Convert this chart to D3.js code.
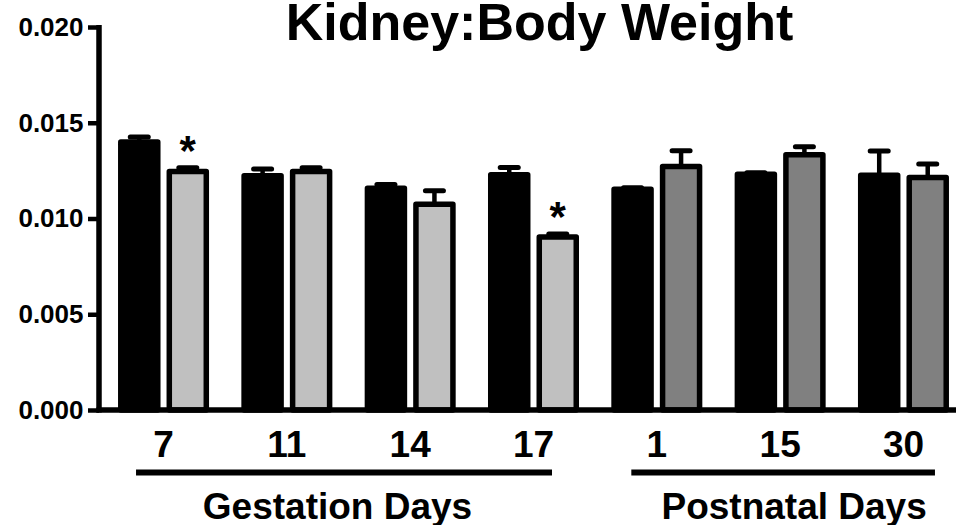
<!DOCTYPE html>
<html>
<head>
<meta charset="utf-8">
<script src="https://cdn.jsdelivr.net/npm/d3@7"></script>
<style>
  html, body { margin: 0; padding: 0; background: #fff; }
  svg { display: block; }
  text { font-family: "Liberation Sans", Arial, Helvetica, sans-serif; font-weight: bold; fill: #000; }
</style>
</head>
<body>
<svg id="chart" width="956" height="525"></svg>
<script>
// ---- data ----
const categories   = ["7", "11", "14", "17", "1", "15", "30"];
const periods      = ["Gestation", "Gestation", "Gestation", "Gestation", "Postnatal", "Postnatal", "Postnatal"];
const controlMean  = [0.01400, 0.01223, 0.01158, 0.01228, 0.01153, 0.01231, 0.01226];
const controlErr   = [0.00026, 0.00035, 0.00020, 0.00038, 0.00008, 0.00008, 0.00127];
const treatedMean  = [0.01245, 0.01245, 0.01075, 0.00904, 0.01272, 0.01333, 0.01214];
const treatedErr   = [0.00020, 0.00020, 0.00070, 0.00015, 0.00082, 0.00042, 0.00070];
const significant  = [true, false, false, true, false, false, false];
const yTicks       = [0, 0.005, 0.010, 0.015, 0.020];
const groupLabels  = ["Gestation Days", "Postnatal Days"];
const groupKeys    = ["Gestation", "Postnatal"];
const title        = "Kidney:Body Weight";

// ---- layout ----
const svg = d3.select("#chart");
const axisX = 99, axisY = 410, topY = 27;
const sw = 5.5;

const y = d3.scaleLinear().domain([0, 0.020]).range([axisY, topY]);
const x = d3.scaleBand().domain(categories).range([102, 965]).paddingInner(0.262).paddingOuter(0.13);
const xs = d3.scaleBand().domain(["control", "treated"]).range([0, x.bandwidth()]).paddingInner(0.124);
const treatedFill = { Gestation: "#c0c0c0", Postnatal: "#808080" };

const rows = categories.map((c, i) => ({
  cat: c, period: periods[i],
  bars: [
    { key: "control", v: controlMean[i], e: controlErr[i], fill: "#000" },
    { key: "treated", v: treatedMean[i], e: treatedErr[i], fill: treatedFill[periods[i]], sig: significant[i] }
  ]
}));

// title
svg.append("text").attr("x", 539.5).attr("y", 40).attr("text-anchor", "middle")
  .style("font-size", "52px").text(title);

// bars
const g = svg.append("g");
const groups = g.selectAll("g.grp").data(rows).join("g")
  .attr("transform", d => `translate(${x(d.cat)},0)`);

const bw = xs.bandwidth();
const bars = groups.selectAll("g.bar").data(d => d.bars).join("g")
  .attr("transform", d => `translate(${xs(d.key)},0)`);

// error bars (behind bar so stem inside is hidden)
bars.append("line")
  .attr("x1", bw / 2).attr("x2", bw / 2)
  .attr("y1", d => y(d.v)).attr("y2", d => y(d.v + d.e))
  .attr("stroke", "#000").attr("stroke-width", 4.5);
bars.append("line")
  .attr("x1", bw / 2 - 9).attr("x2", bw / 2 + 9)
  .attr("y1", d => y(d.v + d.e)).attr("y2", d => y(d.v + d.e))
  .attr("stroke", "#000").attr("stroke-width", 5).attr("stroke-linecap", "round");

bars.append("rect")
  .attr("x", sw / 2).attr("width", bw - sw)
  .attr("y", d => y(d.v)).attr("height", d => y(0) - y(d.v))
  .attr("fill", d => d.fill).attr("stroke", "#000").attr("stroke-width", sw)
  .attr("stroke-linejoin", "round");

// significance
bars.filter(d => d.sig).append("text")
  .attr("x", bw / 2).attr("y", d => y(d.v + d.e) - 3)
  .attr("text-anchor", "middle").style("font-size", "42px").text("*");

// y axis
const yAxis = d3.axisLeft(y).tickValues(yTicks).tickFormat(d3.format(".3f"))
  .tickSize(11).tickSizeOuter(0).tickPadding(4.5);
const ya = svg.append("g").attr("transform", `translate(${axisX},0)`).call(yAxis);
ya.select(".domain").remove();
ya.selectAll(".tick line").attr("stroke", "#000").attr("stroke-width", 4.5);
ya.selectAll(".tick text").style("font-size", "26px").attr("fill", "#000")
  .style("font-family", "'Liberation Sans', Arial, sans-serif").style("font-weight", "bold");
svg.append("line").attr("x1", axisX).attr("x2", axisX).attr("y1", topY - 2).attr("y2", axisY + 2.5)
  .attr("stroke", "#000").attr("stroke-width", 5.5);

// x axis
svg.append("line").attr("x1", axisX - 2.5).attr("x2", 956).attr("y1", axisY).attr("y2", axisY)
  .attr("stroke", "#000").attr("stroke-width", 5.5);
const xAxis = d3.axisBottom(x).tickSize(0).tickPadding(0);
const xa = svg.append("g").attr("transform", `translate(0,${axisY})`).call(xAxis);
xa.select(".domain").remove();
xa.selectAll(".tick text").attr("y", 47).attr("dy", 0).style("font-size", "37px").attr("fill", "#000")
  .style("font-family", "'Liberation Sans', Arial, sans-serif").style("font-weight", "bold");

// group brackets
const bracketOffsets = { Gestation: [18, -27, -11], Postnatal: [20, -14, 14] };
groupKeys.forEach((k, gi) => {
  const cats = categories.filter((c, i) => periods[i] === k);
  const x1 = x(cats[0]) + bracketOffsets[k][0];
  const x2 = x(cats[cats.length - 1]) + x.bandwidth() + bracketOffsets[k][1];
  const mid = (x(cats[0]) + x(cats[cats.length - 1]) + x.bandwidth()) / 2 + bracketOffsets[k][2];
  svg.append("line").attr("x1", x1).attr("x2", x2).attr("y1", 472.5).attr("y2", 472.5)
    .attr("stroke", "#000").attr("stroke-width", 6);
  svg.append("text").attr("x", mid).attr("y", 519).attr("text-anchor", "middle")
    .style("font-size", "37px").text(groupLabels[gi]);
});
</script>
</body>
</html>
